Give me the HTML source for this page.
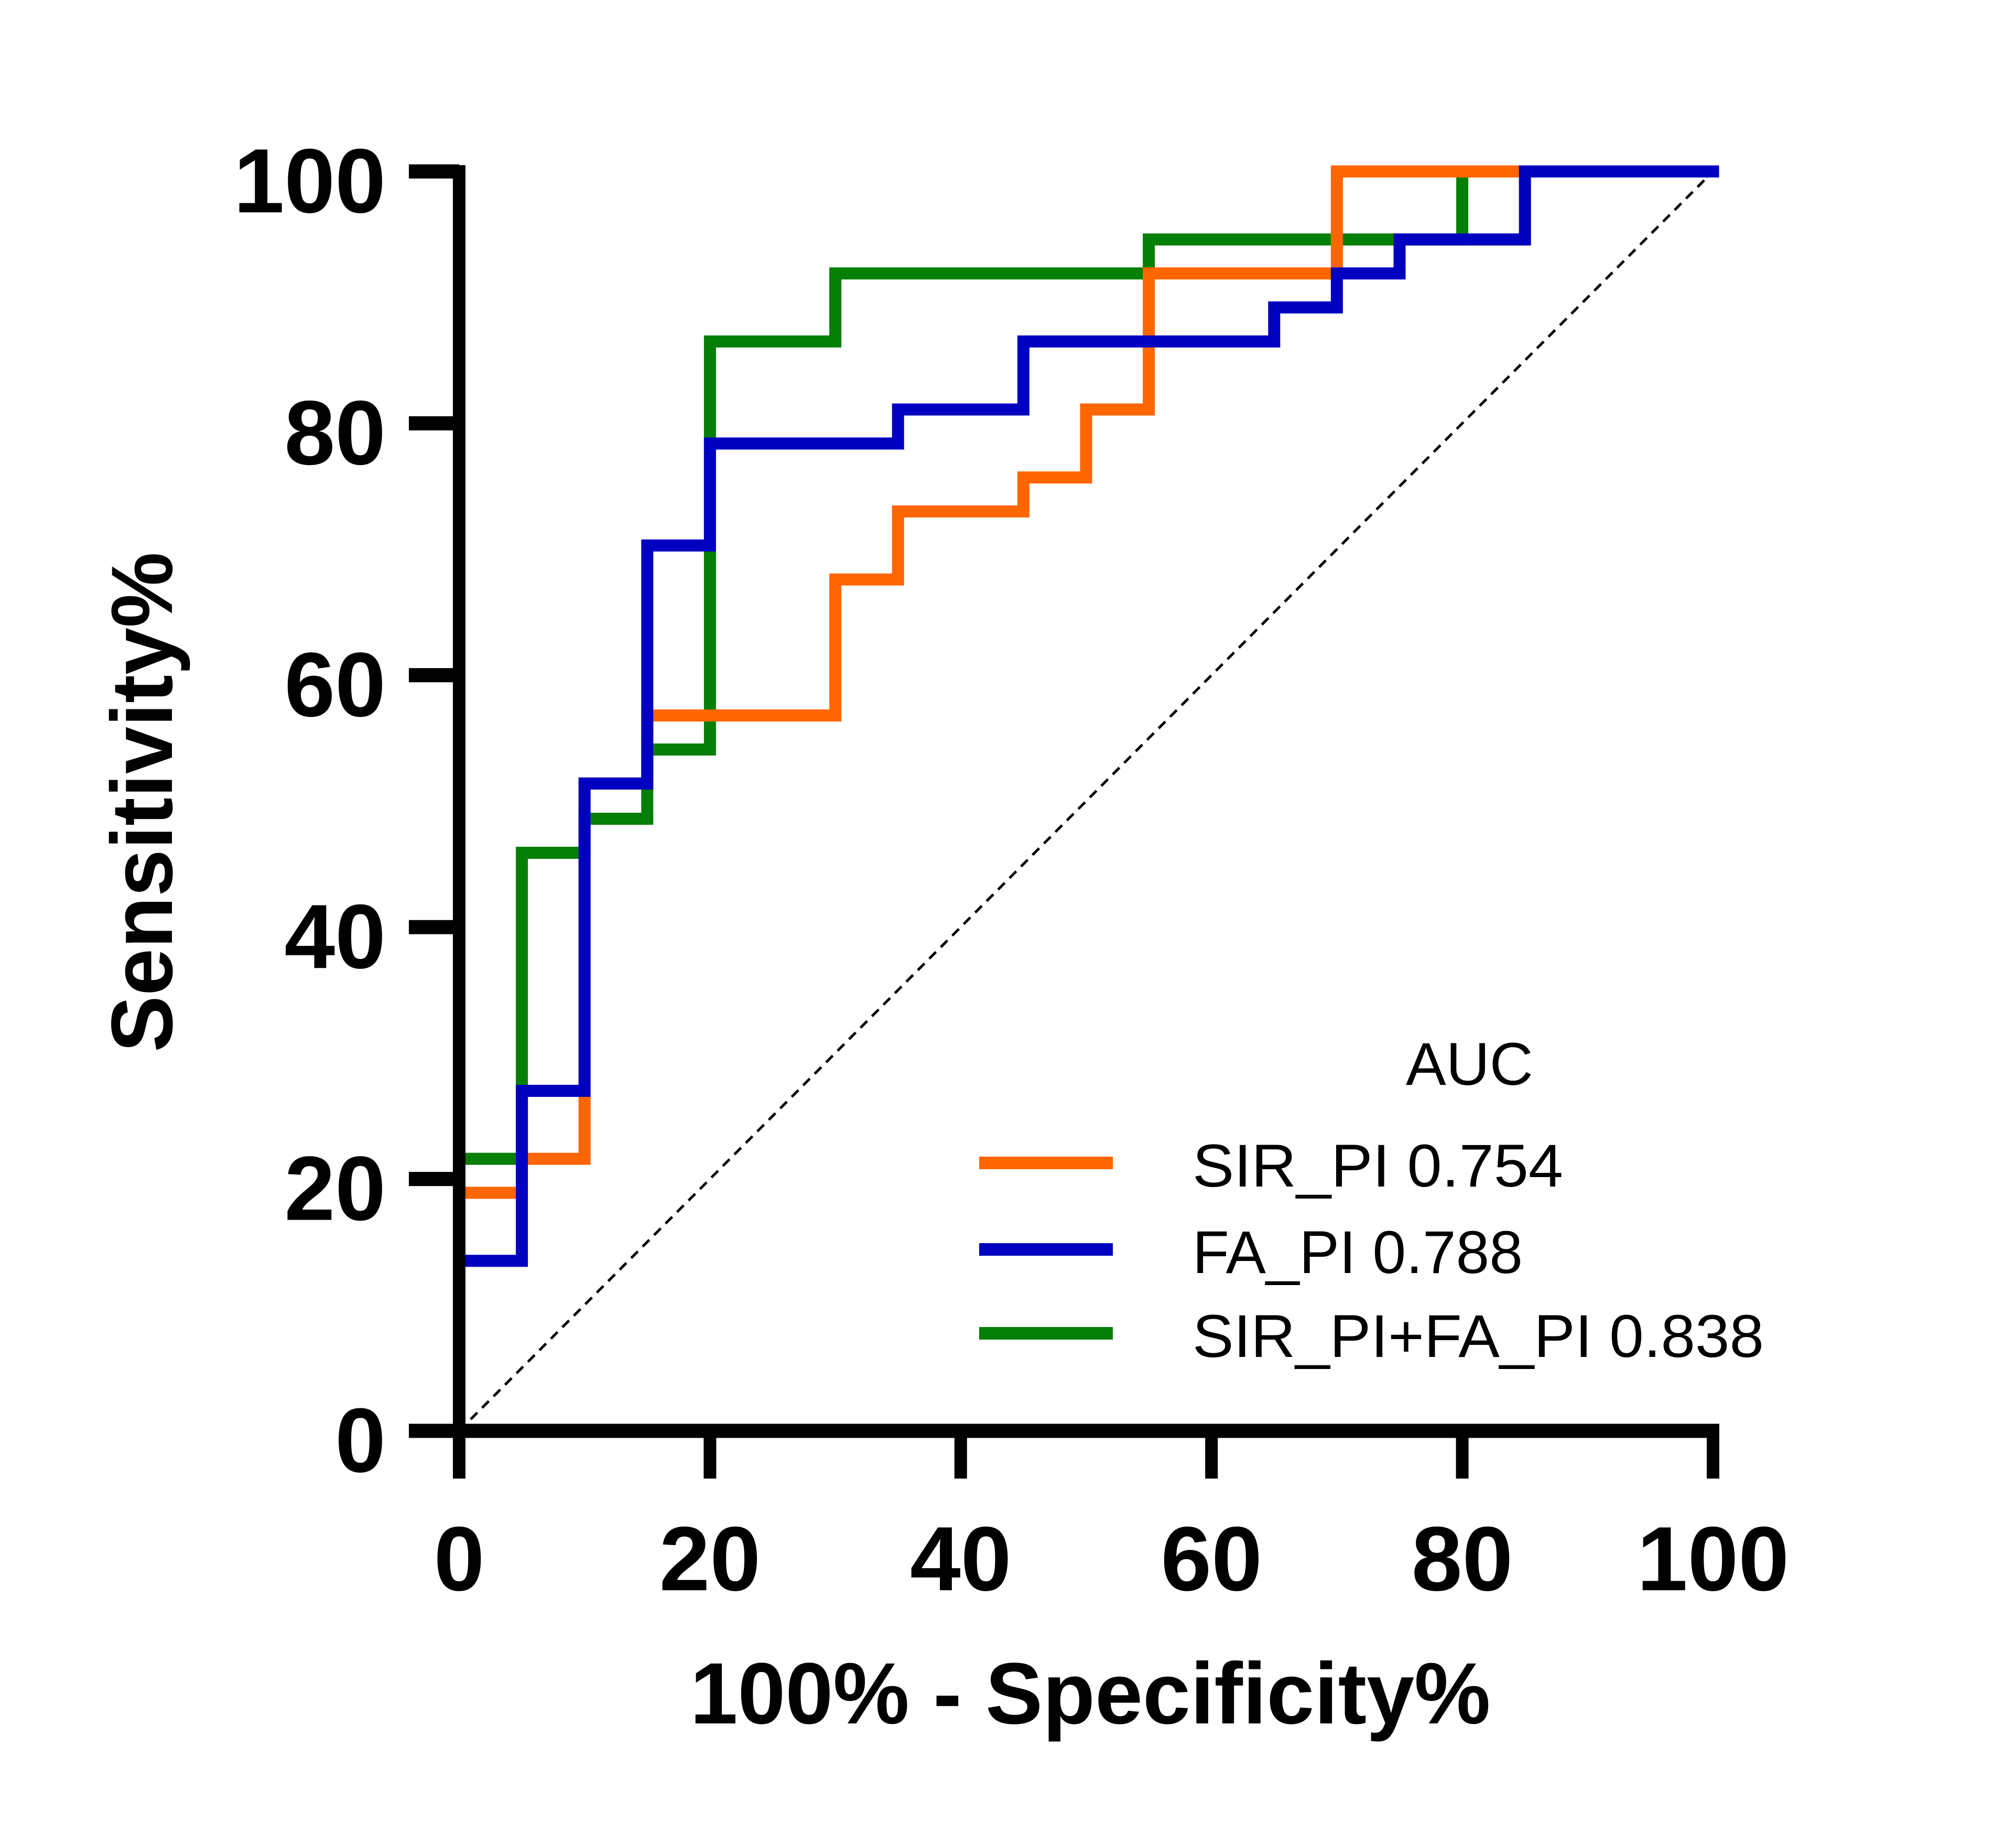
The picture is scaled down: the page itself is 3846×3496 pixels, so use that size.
<!DOCTYPE html>
<html><head><meta charset="utf-8"><style>html,body{margin:0;padding:0;background:#fff}svg{display:block}</style></head>
<body>
<svg id="chart" width="3846" height="3496" viewBox="0 0 3846 3496" xmlns="http://www.w3.org/2000/svg" font-family="'Liberation Sans', Arial, sans-serif">
<rect width="3846" height="3496" fill="#fff"/>
<g id="series"></g>
<g id="axes"></g>
<g id="legend"></g>
<text x="2080" y="3287" text-anchor="middle" font-weight="bold" font-size="166" textLength="1527" lengthAdjust="spacingAndGlyphs">100% - Specificity%</text>
<text transform="translate(328,1530) rotate(-90)" text-anchor="middle" font-weight="bold" font-size="166" textLength="954" lengthAdjust="spacingAndGlyphs">Sensitivity%</text>
</svg>
<script>
const xTicks = [0, 20, 40, 60, 80, 100];
const yTicks = [0, 20, 40, 60, 80, 100];
const sirX = [0, 0, 5, 5, 10, 10, 15, 15, 30, 30, 35, 35, 45, 45, 50, 50, 55, 55, 70, 70, 85];
const sirY = [13.5, 18.9, 18.9, 21.6, 21.6, 51.4, 51.4, 56.8, 56.8, 67.6, 67.6, 73.0, 73.0, 75.7, 75.7, 81.1, 81.1, 91.9, 91.9, 100, 100];
const faX = [0, 0, 5, 5, 10, 10, 15, 15, 20, 20, 35, 35, 45, 45, 65, 65, 70, 70, 75, 75, 85, 85, 100];
const faY = [0, 13.5, 13.5, 27.0, 27.0, 51.4, 51.4, 70.3, 70.3, 78.4, 78.4, 81.1, 81.1, 86.5, 86.5, 89.2, 89.2, 91.9, 91.9, 94.6, 94.6, 100, 100];
const comboX = [0, 0, 5, 5, 10, 10, 15, 15, 20, 20, 30, 30, 55, 55, 80, 80];
const comboY = [18.9, 21.6, 21.6, 45.9, 45.9, 48.6, 48.6, 54.1, 54.1, 86.5, 86.5, 91.9, 91.9, 94.6, 94.6, 100];
const seriesNames = ["SIR_PI 0.754", "FA_PI 0.788", "SIR_PI+FA_PI 0.838"];

const NS = "http://www.w3.org/2000/svg";
const X0 = 876, X1 = 3268, Y0 = 2729, Y1 = 327;
function sx(v){ return X0 + (X1 - X0) * v / 100; }
function sy(v){ return Y0 - (Y0 - Y1) * v / 100; }
function mk(tag, parent){ const e = document.createElementNS(NS, tag); parent.appendChild(e); return e; }

const sg = document.getElementById('series');
const diag = mk('line', sg);


diag.setAttribute('x1', sx(0)); diag.setAttribute('y1', sy(0));
diag.setAttribute('x2', sx(100)); diag.setAttribute('y2', sy(100));
diag.setAttribute('stroke', '#000'); diag.setAttribute('stroke-width', '5');
diag.setAttribute('stroke-dasharray', '18 13');

function drawSeries(xs, ys, color, name){
  const p = mk('polyline', sg);
  
  
  p.setAttribute('points', xs.map((x,i)=>sx(x)+','+sy(ys[i])).join(' '));
  p.setAttribute('fill', 'none'); p.setAttribute('stroke', color);
  p.setAttribute('stroke-width', '23'); p.setAttribute('stroke-linejoin', 'miter'); p.setAttribute('stroke-linecap', 'square');
}
drawSeries(comboX, comboY, '#067F06', 'combo-roc-line');
drawSeries(sirX, sirY, '#FF6600', 'sir-pi-roc-line');
drawSeries(faX, faY, '#0000C0', 'fa-pi-roc-line');

const ag = document.getElementById('axes');
const yAxis = mk('line', ag);


yAxis.setAttribute('x1', X0); yAxis.setAttribute('x2', X0); yAxis.setAttribute('y1', Y1 - 12); yAxis.setAttribute('y2', 2820);
yAxis.setAttribute('stroke', '#000'); yAxis.setAttribute('stroke-width', '24');
const xAxis = mk('line', ag);


xAxis.setAttribute('x1', 780); xAxis.setAttribute('x2', X1 + 12); xAxis.setAttribute('y1', Y0); xAxis.setAttribute('y2', Y0);
xAxis.setAttribute('stroke', '#000'); xAxis.setAttribute('stroke-width', '27');

yTicks.forEach(v => {
  const t = mk('line', ag);
  
  
  t.setAttribute('x1', 780); t.setAttribute('x2', X0); t.setAttribute('y1', sy(v)); t.setAttribute('y2', sy(v));
  t.setAttribute('stroke', '#000'); t.setAttribute('stroke-width', '27');
  const l = mk('text', ag);
  
  
  l.setAttribute('x', 736); l.setAttribute('y', sy(v) + 78);
  l.setAttribute('text-anchor', 'end'); l.setAttribute('font-weight', 'bold'); l.setAttribute('font-size', '174');
  l.textContent = v;
});
xTicks.forEach(v => {
  const t = mk('line', ag);
  
  
  t.setAttribute('x1', sx(v)); t.setAttribute('x2', sx(v)); t.setAttribute('y1', Y0); t.setAttribute('y2', 2820);
  t.setAttribute('stroke', '#000'); t.setAttribute('stroke-width', '24');
  const l = mk('text', ag);
  
  
  l.setAttribute('x', sx(v)); l.setAttribute('y', 3033);
  l.setAttribute('text-anchor', 'middle'); l.setAttribute('font-weight', 'bold'); l.setAttribute('font-size', '174');
  l.textContent = v;
});

const lg = document.getElementById('legend');
const ttl = mk('text', lg);


ttl.setAttribute('x', 2682); ttl.setAttribute('y', 2069); ttl.setAttribute('font-size', '115');
ttl.textContent = 'AUC';
const lColors = ['#FF6600', '#0000C0', '#067F06'];
const lY = [2218, 2383, 2543];
const lW = [707, 630, 1090];
seriesNames.forEach((n, i) => {
  const s = mk('line', lg);
  
  
  s.setAttribute('x1', 1868); s.setAttribute('x2', 2123); s.setAttribute('y1', lY[i]); s.setAttribute('y2', lY[i]);
  s.setAttribute('stroke', lColors[i]); s.setAttribute('stroke-width', '24');
  const t = mk('text', lg);
  
  
  t.setAttribute('x', 2275); t.setAttribute('y', lY[i] + 45); t.setAttribute('font-size', '115');
  t.setAttribute('textLength', lW[i]); t.setAttribute('lengthAdjust', 'spacingAndGlyphs');
  t.textContent = n;
});
</script>
</body></html>
